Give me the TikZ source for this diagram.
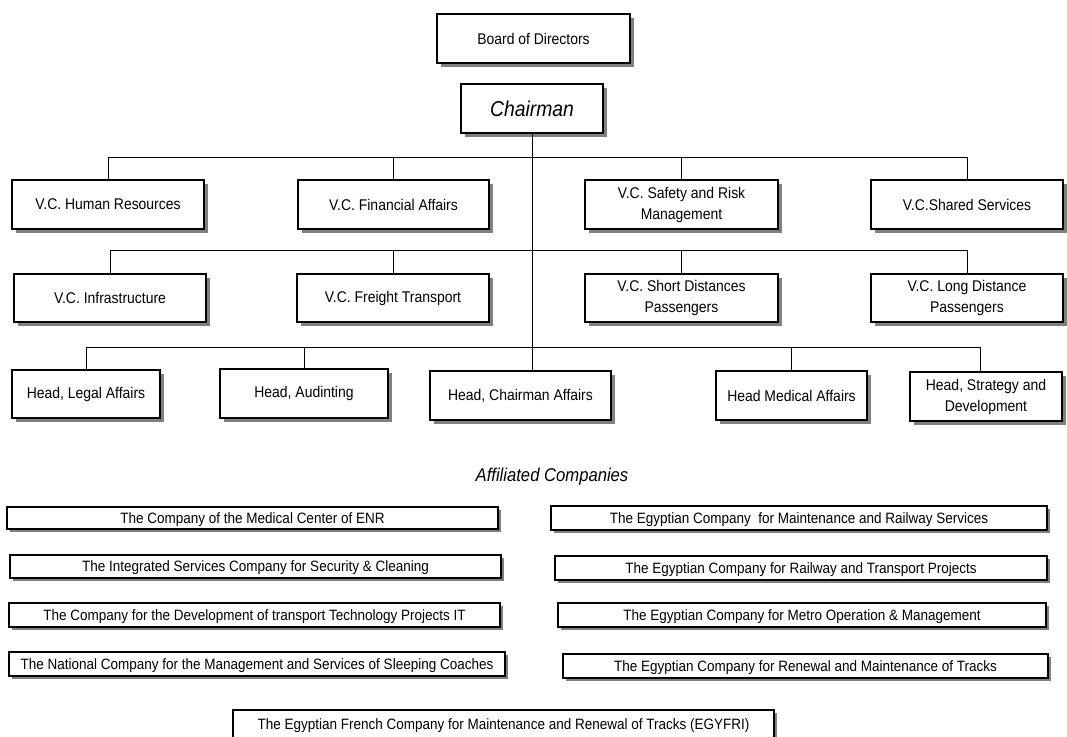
\documentclass[tikz,border=0pt]{standalone}
\usepackage{fontspec}
\setmainfont[FakeStretch=0.9]{Liberation Sans}
\usetikzlibrary{shadows}
\newcommand\obox[7][box]{\node[#1, minimum width={#5-#3}, minimum height={#6-#4}] (#2) at ({(#3+#5)/2},{(#4+#6)/2}) {#7};}
\begin{document}
\begin{tikzpicture}[x=1pt,y=-1pt,
  basebox/.style={draw=black, line width=1.1pt, fill=white, inner sep=0pt, align=center},
  box/.style={basebox, font=\fontsize{15.5}{21}\selectfont,
    drop shadow={shadow xshift=4pt, shadow yshift=-4pt, fill=black!50, opacity=1}},
  chbox/.style={basebox, font=\fontsize{21.5}{24}\selectfont\itshape,
    drop shadow={shadow xshift=4pt, shadow yshift=-4pt, fill=black!50, opacity=1}},
  cbox/.style={draw=black, line width=1.1pt, fill=white, inner sep=0pt,
    text height=10.7pt, text depth=0pt, font=\fontsize{15}{18}\selectfont,
    drop shadow={shadow xshift=3pt, shadow yshift=-3pt, fill=black!50, opacity=1}},
  link/.style={line width=1pt}]
\useasboundingbox (0,0) rectangle (1067,736);
\clip (0,0) rectangle (1067,736);

\obox{board}{437}{14}{630}{63}{Board of Directors}
\obox[chbox]{chair}{461}{84}{603}{133}{Chairman}

\obox{hr}{12}{180}{204}{229}{V.C. Human Resources}
\obox{fin}{298}{180}{489}{229}{V.C. Financial Affairs}
\obox{safe}{585}{180}{778}{229}{V.C. Safety and Risk\\Management}
\obox{shared}{871}{180}{1063}{229}{V.C.Shared Services}

\obox{infra}{14}{274}{206}{322}{V.C. Infrastructure}
\obox{freight}{297}{274}{489}{322}{V.C. Freight Transport}
\obox{short}{585}{274}{778}{322}{V.C. Short Distances\\Passengers}
\obox{long}{871}{274}{1063}{322}{V.C. Long Distance\\Passengers}

\obox{legal}{12}{370}{160}{418}{Head, Legal Affairs}
\obox{audit}{220}{369}{388}{418}{Head, Audinting}
\obox{hca}{430}{371}{611}{420}{Head, Chairman Affairs}
\obox{med}{716}{371}{867}{420}{Head Medical Affairs}
\obox{strat}{910}{372}{1062}{421}{Head, Strategy and\\Development}

\coordinate (bus1) at (532,157);
\coordinate (bus2) at (532,250);
\coordinate (bus3) at (532,347);
\coordinate (sd) at (980,347);

\draw[link] (chair.south) -- (chair.south |- hca.north);
\draw[link] (hr.north) -- (hr.north |- bus1) -- (shared.north |- bus1) -- (shared.north);
\draw[link] (fin.north) -- (fin.north |- bus1);
\draw[link] (safe.north) -- (safe.north |- bus1);
\draw[link] (infra.north) -- (infra.north |- bus2) -- (long.north |- bus2) -- (long.north);
\draw[link] (freight.north) -- (freight.north |- bus2);
\draw[link] (short.north) -- (short.north |- bus2);
\draw[link] (legal.north) -- (legal.north |- bus3) -- (sd) -- (sd |- strat.north);
\draw[link] (audit.north) -- (audit.north |- bus3);
\draw[link] (med.north) -- (med.north |- bus3);

\node[font=\fontsize{18.5}{20}\selectfont\itshape] (aff) at (552,477) {Affiliated Companies};

\obox[cbox]{c1}{7}{507}{498}{529}{The Company of the Medical Center of ENR}
\obox[cbox]{c2}{10}{555}{501}{578}{The Integrated Services Company for Security \& Cleaning}
\obox[cbox]{c3}{9}{603}{500}{627}{The Company for the Development of transport Technology Projects IT}
\obox[cbox]{c4}{9}{652}{505}{676}{The National Company for the Management and Services of Sleeping Coaches}
\obox[cbox]{c5}{551}{506}{1047}{530}{The Egyptian Company\ \ for Maintenance and Railway Services}
\obox[cbox]{c6}{555}{556}{1047}{580}{The Egyptian Company for Railway and Transport Projects}
\obox[cbox]{c7}{558}{603}{1046}{627}{The Egyptian Company for Metro Operation \& Management}
\obox[cbox]{c8}{563}{654}{1048}{678}{The Egyptian Company for Renewal and Maintenance of Tracks}
\obox[cbox]{c9}{233}{710}{774}{738}{The Egyptian French Company for Maintenance and Renewal of Tracks (EGYFRI)}
\end{tikzpicture}
\end{document}
